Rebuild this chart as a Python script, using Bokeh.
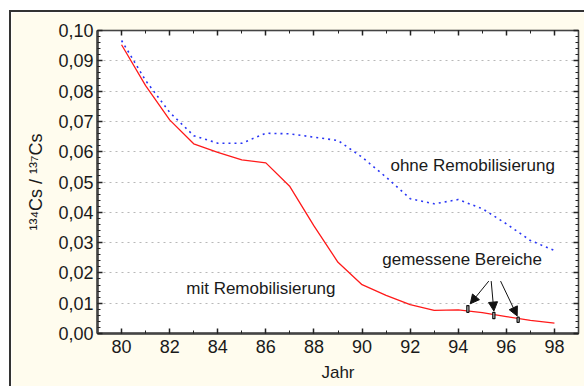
from bokeh.plotting import figure
from bokeh.models import (SingleIntervalTicker, LinearAxis, CustomJSTickFormatter, Label,
                          Arrow, NormalHead, Range1d, Spacer)
from bokeh.layouts import column, row
from bokeh.embed import file_html
from bokeh.resources import INLINE

# ---- data ----
years = [80, 81, 82, 83, 84, 85, 86, 87, 88, 89, 90, 91, 92, 93, 94, 95, 96, 97, 98]
mit_remob = [0.0953, 0.0818, 0.0705, 0.0626, 0.0598, 0.0573, 0.0563, 0.0485, 0.0355, 0.0235,
             0.0161, 0.0126, 0.0095, 0.0076, 0.0078, 0.0069, 0.0056, 0.0043, 0.0034]
ohne_remob = [0.0967, 0.0835, 0.0730, 0.0653, 0.0628, 0.0628, 0.0661, 0.0659, 0.0648, 0.0637,
              0.0582, 0.0516, 0.0445, 0.0428, 0.0442, 0.0412, 0.0362, 0.0307, 0.0274]
meas_year = [94.4, 95.48, 96.49]
meas_lo = [0.0070, 0.0049, 0.0037]
meas_hi = [0.0092, 0.0070, 0.0054]

BG = "#FFFCEE"
FONT = "Liberation Sans"

p = figure(width=575, height=376, output_backend="svg", toolbar_location=None,
           x_range=Range1d(79, 99), y_range=Range1d(0, 0.1),
           background_fill_color="white", border_fill_color=BG,
           min_border_left=86, min_border_top=18, min_border_right=8, min_border_bottom=55,
           x_axis_location=None, y_axis_location=None)
p.outline_line_color = "#222222"
p.outline_line_width = 1.5

xt = SingleIntervalTicker(interval=2, num_minor_ticks=2)
yt = SingleIntervalTicker(interval=0.01, num_minor_ticks=5)
yfmt = CustomJSTickFormatter(code="return tick.toFixed(2).replace('.', ',');")

def style_axis(ax, labels=True):
    ax.major_tick_in = 5
    ax.major_tick_out = 0
    ax.minor_tick_in = 3
    ax.minor_tick_out = 0
    ax.major_tick_line_color = "#222222"
    ax.minor_tick_line_color = "#222222"
    ax.axis_line_color = "#444444"
    ax.major_tick_line_width = 1.5
    if labels:
        ax.major_label_text_font = FONT
        ax.major_label_text_font_size = "18px"
        ax.major_label_text_color = "#1a1a1a"
    else:
        ax.major_label_text_font_size = "0px"
        ax.major_label_text_color = None

xb = LinearAxis(ticker=xt)
style_axis(xb)
xb.axis_line_width = 2.5
xb.major_label_standoff = 6
xb.axis_label = "Jahr"
xb.axis_label_text_font = FONT
xb.axis_label_text_font_size = "17px"
xb.axis_label_text_font_style = "normal"
xb.axis_label_text_color = "#1a1a1a"
xb.axis_label_standoff = 7
p.add_layout(xb, "below")

yl = LinearAxis(ticker=yt, formatter=yfmt)
style_axis(yl)
yl.axis_line_width = 2.5
yl.major_label_standoff = 4
yl.axis_label = "¹³⁴Cs / ¹³⁷Cs"
yl.axis_label_text_font = FONT
yl.axis_label_text_font_size = "18px"
yl.axis_label_text_font_style = "normal"
yl.axis_label_text_color = "#1a1a1a"
yl.axis_label_standoff = 9
p.add_layout(yl, "left")

xtop = LinearAxis(ticker=xt)
style_axis(xtop, labels=False)
p.add_layout(xtop, "above")

yr = LinearAxis(ticker=yt)
style_axis(yr, labels=False)
p.add_layout(yr, "right")

p.xgrid.visible = False
p.ygrid.ticker = yt
p.ygrid.grid_line_color = "#b8b8b8"
p.ygrid.grid_line_dash = "2 4"
p.ygrid.grid_line_width = 1

p.line(years, ohne_remob, line_color="#2a36f5", line_width=1.6, line_dash="2 4")
p.line(years, mit_remob, line_color="#ff1a1a", line_width=1.3)

p.vbar(x=meas_year, bottom=meas_lo, top=meas_hi, width=0.09,
       fill_color="#cfcfcf", line_color="#111111", line_width=1.2)

for txt, x, y, anchor in [("ohne Remobilisierung", 91.18, 0.0554, "left"),
                          ("mit Remobilisierung", 82.69, 0.0150, "left"),
                          ("gemessene Bereiche", 90.84, 0.0243, "left")]:
    p.add_layout(Label(x=x, y=y, text=txt, text_font=FONT, text_font_size="17px",
                       text_color="#1a1a1a", text_baseline="middle", text_align=anchor))

for (x0, y0, x1, y1) in [(95.27, 0.0173, 94.50, 0.0098),
                         (95.37, 0.0173, 95.48, 0.0074),
                         (95.76, 0.0173, 96.45, 0.0058)]:
    p.add_layout(Arrow(x_start=x0, y_start=y0, x_end=x1, y_end=y1, line_width=1,
                       line_color="#111111",
                       end=NormalHead(size=9, fill_color="#111111", line_color="#111111")))

p.styles = {"border-left": "2px solid #333333", "border-top": "2px solid #333333"}

layout = column(Spacer(height=10, width=586), row(Spacer(width=9, height=376), p))
open("out.html", "w").write(file_html(layout, INLINE))
